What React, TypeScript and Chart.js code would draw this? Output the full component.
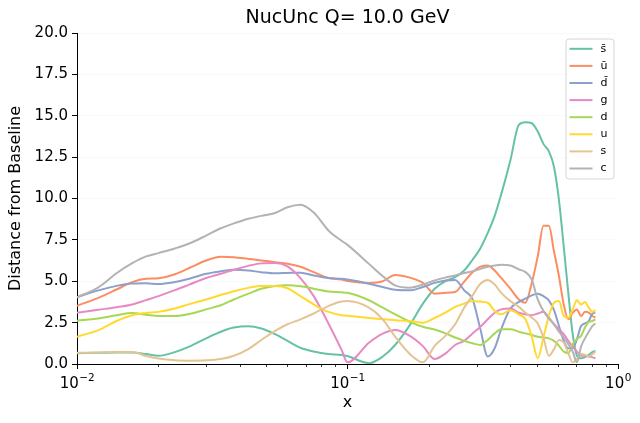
import { useEffect, useRef } from "react";
import { Chart, registerables } from "chart.js";

Chart.register(...registerables);

const xValues = [
  0.010, 0.012, 0.014, 0.016, 0.018, 0.020, 0.023, 0.026, 0.030, 0.034,
  0.038, 0.043, 0.048, 0.054, 0.060, 0.067, 0.075, 0.085, 0.095, 0.100,
  0.12, 0.135, 0.15, 0.17, 0.19, 0.21, 0.23, 0.25, 0.27, 0.29,
  0.31, 0.33, 0.35, 0.37, 0.40,
  0.43, 0.455, 0.48, 0.505, 0.53, 0.555, 0.58, 0.605, 0.63, 0.655,
  0.68, 0.705, 0.73, 0.755, 0.78, 0.805, 0.825,
];

const sBarValues = [
  0.65, 0.68, 0.7, 0.7, 0.6, 0.5, 0.72, 1.05, 1.55, 1.95,
  2.2, 2.28, 2.15, 1.8, 1.4, 0.98, 0.75, 0.6, 0.55, 0.48,
  0.05, 0.45, 1.15, 2.35, 3.65, 4.55, 5.0, 5.25, 5.65, 6.3,
  7.0, 7.92, 8.95, 10.25, 12.3,
  14.45, 14.6, 14.55, 14.05, 13.3, 12.85, 11.9, 9.9, 7.1, 4.3,
  1.8, 0.5, 0.34, 0.42, 0.55, 0.72, 0.8,
];

const uBarValues = [
  3.52, 4.0, 4.5, 4.95, 5.15, 5.18, 5.42, 5.8, 6.25, 6.48,
  6.45, 6.35, 6.26, 6.15, 6.06, 5.88, 5.55, 5.2, 5.1, 5.02,
  4.9, 5.0, 5.38, 5.22, 4.9, 4.25, 4.3, 4.35, 4.98, 5.55,
  5.88, 5.95, 5.65, 5.2, 4.55,
  3.9, 3.7, 4.9, 6.5, 8.35, 8.35, 6.8, 5.3, 3.6, 2.7,
  3.1, 3.3, 2.9, 3.15, 3.1, 2.9, 2.8,
];

const dBarValues = [
  4.03, 4.45, 4.72, 4.86, 4.88, 4.83, 4.95, 5.15, 5.45, 5.6,
  5.7, 5.65, 5.55, 5.48, 5.5, 5.52, 5.35, 5.2, 5.15, 5.1,
  4.85, 4.65, 4.48, 4.45, 4.65, 4.9, 5.05, 5.08, 4.45, 3.9,
  2.1, 0.45, 0.95, 2.1, 3.35,
  3.75, 3.95, 4.15, 4.25, 4.1, 3.85, 3.25, 2.3, 1.4, 0.95,
  0.95, 1.5, 2.3, 2.45, 2.6, 3.05, 3.1,
];

const gValues = [
  3.1, 3.28, 3.43, 3.6, 3.86, 4.1, 4.46, 4.8, 5.2, 5.45,
  5.7, 5.93, 6.08, 6.1, 5.9, 5.19, 4.1, 2.45, 0.87, 0.1,
  1.28, 1.83, 2.05, 1.7, 1.08, 0.3, 0.63, 1.15, 1.4, 1.85,
  2.25, 2.7, 3.1, 3.3, 3.35,
  3.1, 3.0, 2.95, 3.05, 3.15, 2.8, 2.4, 2.1, 1.8, 1.4,
  1.05, 0.75, 0.5, 0.5, 0.45, 0.4, 0.35,
];

const dValues = [
  2.62, 2.75, 2.95, 3.08, 2.98, 2.9, 2.9, 3.02, 3.3, 3.55,
  3.9, 4.25, 4.55, 4.72, 4.76, 4.7, 4.55, 4.38, 4.33, 4.3,
  3.85, 3.4, 3.0, 2.55, 2.25, 2.08, 1.85, 1.6, 1.4, 1.25,
  1.15, 1.45, 1.85, 2.1, 2.1,
  1.95, 1.85, 1.75, 1.65, 1.6, 1.55, 1.4, 1.1, 0.75, 0.65,
  1.2, 1.5, 1.7, 2.2, 2.55, 2.6, 2.7,
];

const uValues = [
  1.65, 2.05, 2.6, 2.95, 3.08, 3.15, 3.35, 3.62, 3.9, 4.17,
  4.4, 4.6, 4.72, 4.72, 4.58, 4.1, 3.6, 3.15, 2.95, 2.92,
  2.78, 2.7, 2.65, 2.6, 2.5, 2.78, 3.1, 3.45, 3.65, 3.8,
  3.77, 3.7, 3.2, 3.0, 3.25,
  3.0, 2.7, 1.65, 0.35, 1.6, 2.9, 3.7, 3.8, 2.9, 2.8,
  3.3, 3.85, 3.6, 3.75, 3.4, 3.15, 3.25,
];

const sValues = [
  0.68, 0.7, 0.72, 0.72, 0.48, 0.33, 0.22, 0.2, 0.22, 0.3,
  0.5, 0.9, 1.45, 2.0, 2.4, 2.7, 3.05, 3.5, 3.78, 3.8,
  3.4, 2.7, 1.65, 0.6, 0.1, 1.1, 1.7, 2.4, 3.4, 4.15,
  4.85, 5.08, 4.8, 4.3, 3.8,
  3.45, 3.1, 2.8, 2.45, 1.6, 0.5, 0.9, 1.45, 1.3, 0.65,
  0.1, 0.3, 0.6, 0.55, 0.45, 0.6, 0.75,
];

const cValues = [
  4.03, 4.63, 5.48, 6.09, 6.5, 6.7, 6.98, 7.28, 7.76, 8.2,
  8.5, 8.78, 8.95, 9.12, 9.47, 9.62, 9.15, 8.07, 7.45, 7.2,
  6.05, 5.3, 4.75, 4.61, 4.8, 5.05, 5.22, 5.35, 5.5, 5.6,
  5.75, 5.88, 5.95, 6.0, 5.95,
  5.72, 5.55, 5.1, 3.9, 3.2, 2.75, 2.4, 1.95, 1.6, 1.2,
  0.75, 0.1, 1.05, 1.55, 1.95, 2.3, 2.45,
];

const seriesLabels = ["s\u0304", "\u016b", "d\u0304", "g", "d", "u", "s", "c"];
const seriesColors = ["#66c2a5", "#fc8d62", "#8da0cb", "#e78ac3", "#a6d854", "#ffd92f", "#e5c494", "#b3b3b3"];

const xTickValues = [
  0.01, 0.02, 0.03, 0.04, 0.05, 0.06, 0.07, 0.08, 0.09,
  0.1, 0.2, 0.3, 0.4, 0.5, 0.6, 0.7, 0.8, 0.9, 1,
];
const xMajorExponents: Record<string, string> = {
  "0.01": "\u22122",
  "0.1": "\u22121",
  "1": "0",
};

const titleText = "NucUnc Q= 10.0 GeV";
const xTitle = "x";
const yTitle = "Distance from Baseline";
const FONT = "'DejaVu Sans', sans-serif";

const isMajor = (v: number) => {
  const l = Math.log10(v);
  return Math.abs(l - Math.round(l)) < 1e-6;
};

export default function App() {
  const ref = useRef<HTMLCanvasElement>(null);

  useEffect(() => {
    document.body.style.margin = "0";
    const series = [sBarValues, uBarValues, dBarValues, gValues, dValues, uValues, sValues, cValues];
    const datasets = series.map((vals, i) => ({
      label: seriesLabels[i],
      data: vals.map((v, j) => ({ x: xValues[j], y: v })),
      borderColor: seriesColors[i],
      backgroundColor: seriesColors[i],
      borderWidth: 2,
      pointRadius: 0,
      fill: false,
      cubicInterpolationMode: "monotone" as const,
      order: series.length - 1 - i,
    }));

    const overlay = {
      id: "overlay",
      afterDraw(chart: any) {
        const ctx = chart.ctx as CanvasRenderingContext2D;
        const area = chart.chartArea;
        const xs = chart.scales.x;
        ctx.save();
        // minor ticks
        ctx.strokeStyle = "#000";
        ctx.lineWidth = 0.8;
        for (const v of xTickValues) {
          if (isMajor(v)) continue;
          const px = Math.round(xs.getPixelForValue(v)) + 0.5;
          ctx.beginPath();
          ctx.moveTo(px, area.bottom);
          ctx.lineTo(px, area.bottom + 3);
          ctx.stroke();
        }
        // x major tick labels: 10 with superscript exponent
        ctx.fillStyle = "#000";
        ctx.textBaseline = "alphabetic";
        ctx.textAlign = "left";
        for (const v of xTickValues) {
          if (!isMajor(v)) continue;
          const exp = xMajorExponents[String(v)] ?? "";
          const px = xs.getPixelForValue(v);
          ctx.font = `15px ${FONT}`;
          const wBase = ctx.measureText("10").width;
          ctx.font = `10.5px ${FONT}`;
          const wExp = ctx.measureText(exp).width;
          const start = px - (wBase + wExp) / 2;
          ctx.font = `15px ${FONT}`;
          ctx.fillText("10", start, 388);
          ctx.font = `10.5px ${FONT}`;
          ctx.fillText(exp, start + wBase + 0.5, 381);
        }
        // title
        ctx.textAlign = "center";
        ctx.textBaseline = "middle";
        ctx.font = `19px ${FONT}`;
        ctx.fillText(titleText, (area.left + area.right) / 2, 18);
        // axis titles
        ctx.font = `16px ${FONT}`;
        ctx.fillText(xTitle, (area.left + area.right) / 2, 403);
        ctx.save();
        ctx.translate(16, (area.top + area.bottom) / 2);
        ctx.rotate(-Math.PI / 2);
        ctx.fillText(yTitle, 0, 0);
        ctx.restore();
        // legend
        const bx = 566, by = 39, bw = 48, bh = 140, r = 3;
        ctx.beginPath();
        ctx.moveTo(bx + r, by);
        ctx.lineTo(bx + bw - r, by);
        ctx.quadraticCurveTo(bx + bw, by, bx + bw, by + r);
        ctx.lineTo(bx + bw, by + bh - r);
        ctx.quadraticCurveTo(bx + bw, by + bh, bx + bw - r, by + bh);
        ctx.lineTo(bx + r, by + bh);
        ctx.quadraticCurveTo(bx, by + bh, bx, by + bh - r);
        ctx.lineTo(bx, by + r);
        ctx.quadraticCurveTo(bx, by, bx + r, by);
        ctx.closePath();
        ctx.fillStyle = "rgba(255,255,255,0.8)";
        ctx.fill();
        ctx.strokeStyle = "#d6d6d6";
        ctx.lineWidth = 1;
        ctx.stroke();
        ctx.font = `11px ${FONT}`;
        ctx.textAlign = "left";
        ctx.textBaseline = "middle";
        chart.data.datasets.forEach((ds: any, i: number) => {
          const y = 48.8 + i * 17.1;
          ctx.strokeStyle = ds.borderColor;
          ctx.lineWidth = 2;
          ctx.beginPath();
          ctx.moveTo(569.5, y);
          ctx.lineTo(592.5, y);
          ctx.stroke();
          ctx.fillStyle = "#000";
          ctx.fillText(ds.label, 600.5, y);
        });
        ctx.restore();
      },
    };

    const chart = new Chart(ref.current!, {
      type: "line",
      data: { datasets },
      options: {
        responsive: true,
        maintainAspectRatio: false,
        animation: false,
        layout: { padding: { left: 0, right: 22, top: 33, bottom: 0 } },
        plugins: {
          legend: { display: false },
          title: { display: false },
          tooltip: { enabled: false },
        },
        scales: {
          x: {
            type: "logarithmic",
            min: 0.01,
            max: 1,
            afterBuildTicks: (scale: any) => {
              scale.ticks = xTickValues.map((v) => ({ value: v }));
            },
            afterFit: (scale: any) => {
              scale.height = 59;
            },
            ticks: {
              autoSkip: false,
              maxRotation: 0,
              padding: 3,
              color: "#000",
              font: { family: FONT, size: 15 },
              callback: () => "",
            },
            grid: {
              display: true,
              drawOnChartArea: false,
              drawTicks: true,
              tickLength: 5,
              tickWidth: 1,
              tickColor: (c: any) => (c.tick && isMajor(c.tick.value) ? "#000" : "rgba(0,0,0,0)"),
            },
            border: { display: true, color: "#000", width: 1 },
          },
          y: {
            type: "linear",
            min: 0,
            max: 20,
            afterFit: (scale: any) => {
              scale.width = 77;
            },
            ticks: {
              stepSize: 2.5,
              padding: 4,
              color: "#000",
              font: { family: FONT, size: 15 },
              callback: (value: any) => Number(value).toFixed(1),
            },
            grid: {
              display: true,
              drawOnChartArea: true,
              color: "rgba(0,0,0,0.025)",
              drawTicks: true,
              tickLength: 5,
              tickColor: "#000",
              tickWidth: 1,
            },
            border: { display: true, color: "#000", width: 1 },
          },
        },
      },
      plugins: [overlay],
    });

    return () => chart.destroy();
  }, []);

  return (
    <div style={{ width: 640, height: 423, position: "relative" }}>
      <canvas ref={ref} />
    </div>
  );
}
